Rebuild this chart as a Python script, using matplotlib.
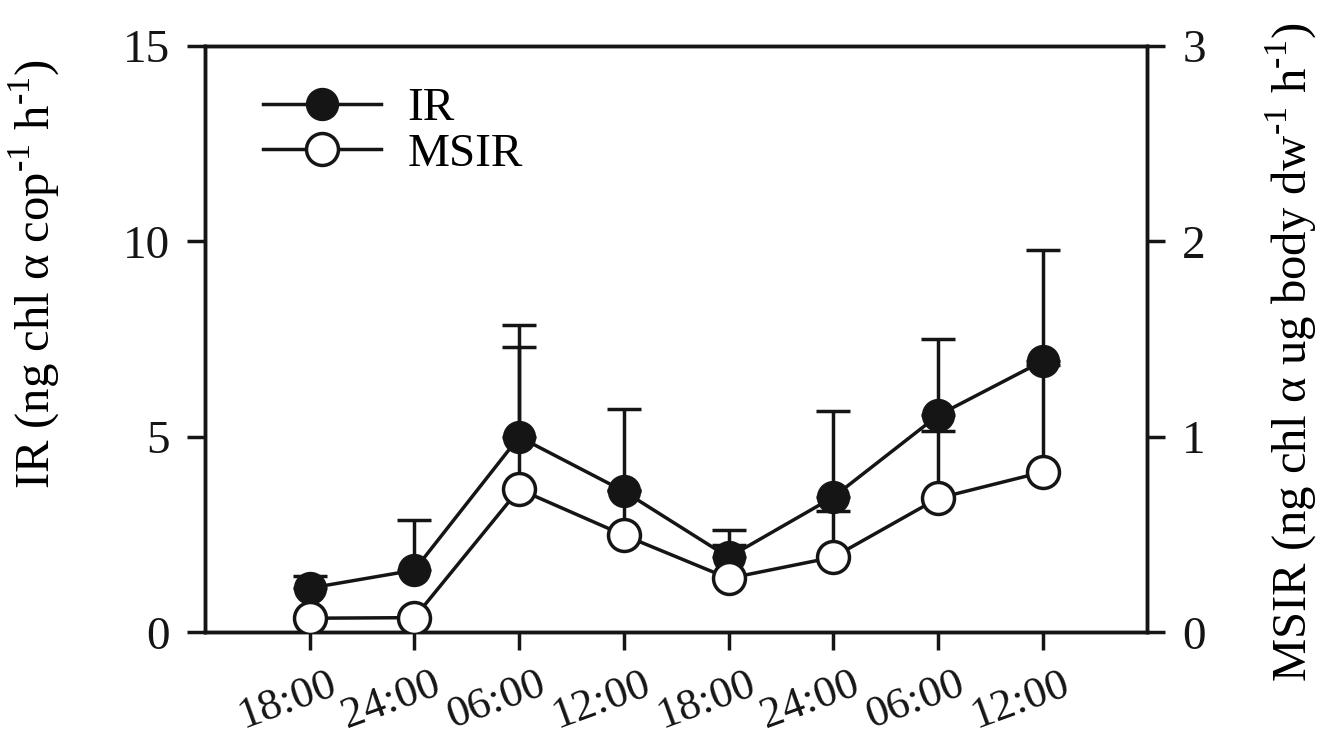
import numpy as np
import matplotlib
matplotlib.use("Agg")
import matplotlib.pyplot as plt
import matplotlib.transforms as mtransforms

# donnees
heures = ["18:00", "24:00", "06:00", "12:00", "18:00", "24:00", "06:00", "12:00"]
ir = [1.13, 1.59, 5.0, 3.61, 1.92, 3.46, 5.55, 6.94]
ir_err = [0.30, 1.28, 2.86, 2.10, 0.69, 2.20, 1.95, 2.84]
msir = [0.072, 0.075, 0.732, 0.497, 0.276, 0.384, 0.686, 0.82]
msir_err = [0.0, 0.0, 0.73, 0.23, 0.17, 0.236, 0.344, 0.55]

plt.rcParams['font.family'] = ['Liberation Serif', 'DejaVu Serif']
plt.rcParams['mathtext.fontset'] = 'custom'
plt.rcParams['mathtext.rm'] = 'Liberation Serif'

x = np.arange(1, len(heures) + 1)

fig = plt.figure(figsize=(13.22, 7.43), dpi=100)
ax = fig.add_axes([0.155, 0.149, 0.713, 0.789])
ax2 = ax.twinx()

lw = 2.5
ms = 23
cap = 12
noir = '#151515'

# IR : points pleins, barres d'erreur vers le haut
ax.errorbar(x, ir, yerr=[np.zeros(len(ir)), ir_err], fmt='none', ecolor=noir,
            elinewidth=lw, capsize=cap, capthick=lw, zorder=2)
l1, = ax.plot(x, ir, '-o', color=noir, mfc=noir, mec=noir,
              ms=ms, lw=lw, zorder=3, label='IR')

# MSIR : points vides sur l'axe de droite
ax2.errorbar(x, msir, yerr=[np.zeros(len(msir)), msir_err], fmt='none', ecolor=noir,
             elinewidth=lw, capsize=cap, capthick=lw, zorder=2)
l2, = ax2.plot(x, msir, '-o', color=noir, mfc='white', mec=noir, mew=lw,
               ms=ms, lw=lw, zorder=3, label='MSIR')

ax.set_xlim(0, 9)
ax.set_ylim(0, 15)
ax2.set_ylim(0, 3)
ax.set_yticks([0, 5, 10, 15])
ax2.set_yticks([0, 1, 2, 3])
ax.set_xticks(x)
ax.set_xticklabels(heures, rotation=20, ha='right', rotation_mode='anchor')

for a in (ax, ax2):
    for s in a.spines.values():
        s.set_linewidth(lw)
        s.set_color(noir)
    a.tick_params(width=lw, length=13, labelsize=34, colors=noir, direction='out', pad=12)
ax.tick_params(axis='x', labelsize=32, pad=10)

# decaler les etiquettes de l'axe x vers la droite
decal = mtransforms.ScaledTranslation(18 / 100, 0, fig.dpi_scale_trans)
for lab in ax.get_xticklabels():
    lab.set_transform(lab.get_transform() + decal)

ax.set_ylabel(r'IR (ng chl α cop$^{\text{-1}}$ h$^{\text{-1}}$)', fontsize=35)
ax.yaxis.set_label_coords(-0.152, 0.612)
ax2.set_ylabel(r'MSIR (ng chl α ug body dw$^{\text{-1}}$ h$^{\text{-1}}$)', fontsize=35,
               rotation=90)
ax2.yaxis.set_label_coords(1.124, 0.478)

ax2.legend(handles=[l1, l2], loc='upper left', bbox_to_anchor=(0.062, 0.93),
           frameon=False, fontsize=34, handlelength=2.5, handletextpad=0.55,
           labelspacing=0.05, borderpad=0, borderaxespad=0)

fig.savefig('out.png', dpi=100)
